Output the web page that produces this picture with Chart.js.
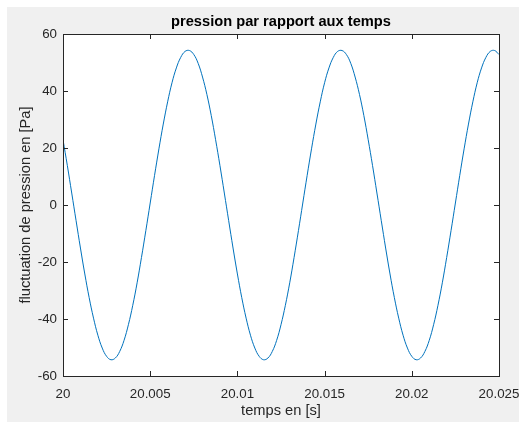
<!DOCTYPE html>
<html>
<head>
<meta charset="utf-8">
<script src="https://cdn.jsdelivr.net/npm/chart.js@4/dist/chart.umd.min.js"></script>
<style>
    html, body { margin: 0; padding: 0; background: #ffffff; }
    canvas { display: block; }
</style>
</head>
<body>
<canvas id="pressureChart" width="519" height="422"></canvas>
<script>
// pressure fluctuation, one sample every 0.25 ms from t = 20 s
const pressure = [
    22.9, 13.8, 4.2, -5.5, -15.1, -24.2, -32.5, -39.7, -45.7, -50.2,
    -53.1, -54.3, -53.7, -51.4, -47.5, -42.0, -35.2, -27.3, -18.4, -9.0,
    0.7, 10.4, 19.7, 28.4, 36.2, 42.9, 48.1, 51.8, 53.9, 54.2,
    52.8, 49.7, 44.9, 38.8, 31.4,
    22.9, 13.8, 4.2, -5.5, -15.1, -24.2, -32.5, -39.7, -45.7, -50.2,
    -53.1, -54.3, -53.7, -51.4, -47.5, -42.0, -35.2, -27.3, -18.4, -9.0,
    0.7, 10.4, 19.7, 28.4, 36.2, 42.9, 48.1, 51.8, 53.9, 54.2,
    52.8, 49.7, 44.9, 38.8, 31.4,
    22.9, 13.8, 4.2, -5.5, -15.1, -24.2, -32.5, -39.7, -45.7, -50.2,
    -53.1, -54.3, -53.7, -51.4, -47.5, -42.0, -35.2, -27.3, -18.4, -9.0,
    0.7, 10.4, 19.7, 28.4, 36.2, 42.9, 48.1, 51.8, 53.9, 54.2,
    52.8
];
const timeStart = 20;
const timeStep = 0.00025;
const sampleTimes = pressure.map((_, i) => timeStart + i * timeStep);

const xTicks = [20, 20.005, 20.01, 20.015, 20.02, 20.025];
const xTickLabels = ["20", "20.005", "20.01", "20.015", "20.02", "20.025"];
const yTicks = [-60, -40, -20, 0, 20, 40, 60];
const yTickLabels = ["-60", "-40", "-20", "0", "20", "40", "60"];

const chartTitle = "pression par rapport aux temps";
const axisColor = "#262626";
const fontFamily = "'Liberation Sans', Arial, Helvetica, sans-serif";

// MATLAB-like figure: grey frame, white axes, inward ticks on all four sides
const figureFrame = {
    id: "figureFrame",
    beforeDraw(chart){
        const { ctx, chartArea: a, width, height } = chart;
        ctx.save();
        ctx.fillStyle = "#ffffff";
        ctx.fillRect(0, 0, width, height);
        ctx.fillStyle = "#f0f0f0";
        ctx.fillRect(7, 7, width - 7, height - 7);
        ctx.fillStyle = "#ffffff";
        ctx.fillRect(a.left, a.top, a.right - a.left, a.bottom - a.top);
        ctx.restore();
    },
    afterDraw(chart){
        const { ctx, chartArea: a, scales } = chart;
        const tick = 5;
        ctx.save();
        ctx.strokeStyle = axisColor;
        ctx.lineWidth = 1;
        ctx.beginPath();
        xTicks.forEach((v) => {
            const px = Math.round(scales.x.getPixelForValue(v)) + 0.5;
            ctx.moveTo(px, a.bottom);
            ctx.lineTo(px, a.bottom - tick);
            ctx.moveTo(px, a.top);
            ctx.lineTo(px, a.top + tick);
        });
        yTicks.forEach((v) => {
            const py = Math.round(scales.y.getPixelForValue(v)) + 0.5;
            ctx.moveTo(a.left, py);
            ctx.lineTo(a.left + tick, py);
            ctx.moveTo(a.right, py);
            ctx.lineTo(a.right - tick, py);
        });
        ctx.stroke();
        ctx.strokeRect(Math.round(a.left) + 0.5, Math.round(a.top) + 0.5,
            Math.round(a.right - a.left), Math.round(a.bottom - a.top));

        // title is centred over the axes, not the whole figure
        ctx.fillStyle = "#000000";
        ctx.font = `bold 14.67px ${fontFamily}`;
        ctx.textAlign = "center";
        ctx.textBaseline = "middle";
        ctx.fillText(chartTitle, (a.left + a.right) / 2, 22);
        ctx.restore();
    },
};

Chart.defaults.color = axisColor;
Chart.defaults.font.family = fontFamily;

new Chart(document.getElementById("pressureChart"), {
    type: "line",
    data: {
        datasets: [{
            data: sampleTimes.map((t, i) => ({ x: t, y: pressure[i] })),
            borderColor: "#0072BD",
            borderWidth: 1,
            pointRadius: 0,
            tension: 0.4,
            fill: false,
        }],
    },
    options: {
        responsive: false,
        animation: false,
        devicePixelRatio: 1,
        layout: { padding: { left: 7, right: 20, top: 34, bottom: 0 } },
        plugins: {
            legend: { display: false },
            tooltip: { enabled: false },
            title: { display: false },
        },
        scales: {
            x: {
                type: "linear",
                min: 20,
                max: 20.025,
                afterBuildTicks: (axis) => { axis.ticks = xTicks.map((v) => ({ value: v })); },
                afterFit: (scale) => {
                    scale.height = 46;
                    scale.paddingLeft = 0;
                    scale.paddingRight = 0;
                },
                ticks: {
                    autoSkip: false,
                    maxRotation: 0,
                    padding: 10,
                    font: { size: 13.33 },
                    callback: (v) => xTickLabels[xTicks.indexOf(v)] ?? "",
                },
                grid: { display: false, drawTicks: false },
                border: { display: false },
                title: {
                    display: true,
                    text: "temps en [s]",
                    font: { size: 14.67 },
                    padding: { top: 1, bottom: 2 },
                },
            },
            y: {
                min: -60,
                max: 60,
                afterBuildTicks: (axis) => { axis.ticks = yTicks.map((v) => ({ value: v })); },
                afterFit: (scale) => {
                    scale.width = 56;
                    scale.paddingTop = 0;
                    scale.paddingBottom = 0;
                },
                ticks: {
                    padding: 6,
                    font: { size: 13.33 },
                    callback: (v) => yTickLabels[yTicks.indexOf(v)] ?? "",
                },
                grid: { display: false, drawTicks: false },
                border: { display: false },
                title: {
                    display: true,
                    text: "fluctuation de pression en [Pa]",
                    font: { size: 14.67 },
                    padding: { top: 10, bottom: 4 },
                },
            },
        },
    },
    plugins: [figureFrame],
});
</script>
</body>
</html>
